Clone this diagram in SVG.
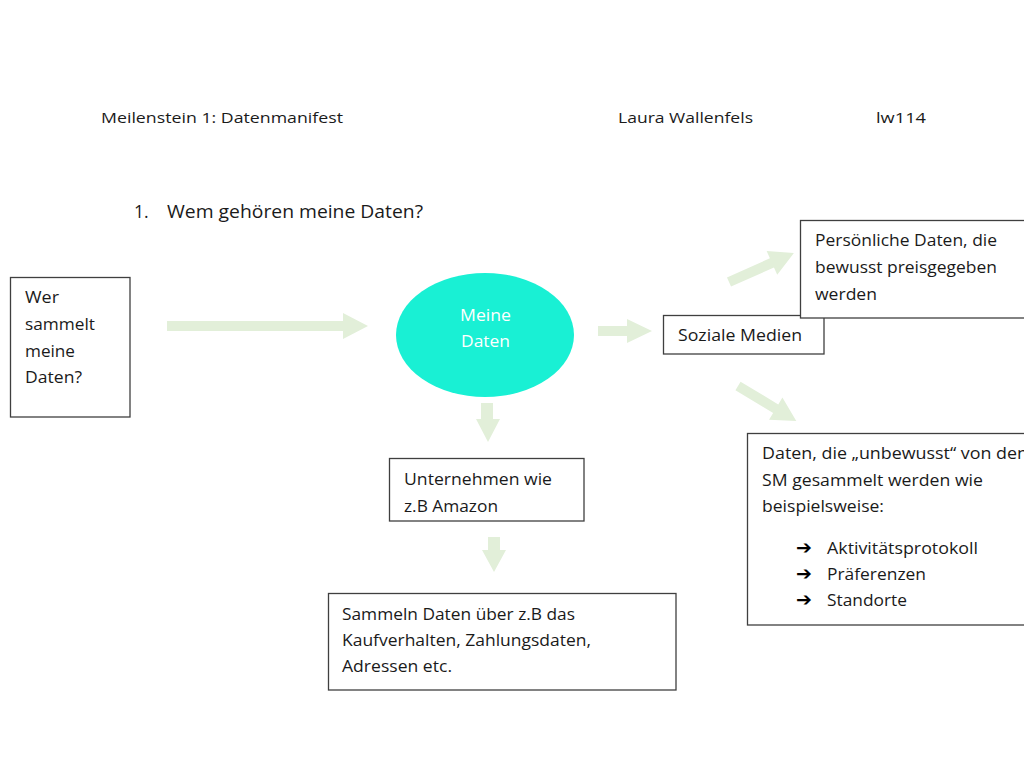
<svg xmlns="http://www.w3.org/2000/svg" width="1024" height="768" viewBox="0 0 1024 768">
<style>
text{font-family:"Open Sans","Liberation Sans",sans-serif;font-size:15.5px;fill:#1a1a1a}
.hdr{font-size:14.5px}
.h1{font-size:17.5px}
.box{fill:#fff;stroke:#3f3f3f;stroke-width:1.3}
.arr{fill:#e2efd9}
.wt{fill:#fff;font-size:15.5px}
.sym{font-family:"DejaVu Sans",sans-serif;font-size:19px;font-weight:bold;fill:#000}
</style>
<rect width="1024" height="768" fill="#fff"/>
<g id="header">
<text class="hdr" x="101" y="123" textLength="242" lengthAdjust="spacingAndGlyphs">Meilenstein 1: Datenmanifest</text>
<text class="hdr" x="618" y="123" textLength="135" lengthAdjust="spacingAndGlyphs">Laura Wallenfels</text>
<text class="hdr" x="876" y="123" textLength="50" lengthAdjust="spacingAndGlyphs">lw114</text>
<text class="h1" x="134" y="218">1.</text>
<text class="h1" x="167" y="218" textLength="256" lengthAdjust="spacingAndGlyphs">Wem gehören meine Daten?</text>
</g>
<g id="connectors">
<polygon class="arr" points="167,321 343,321 343,313 368,326 343,339 343,331 167,331"/>
<polygon class="arr" points="598,326 627,326 627,319 652,331 627,343 627,336 598,336"/>
<polygon class="arr" points="481,403 493,403 493,419 500,419 488,442 476,419 481,419"/>
<polygon class="arr" points="488,537 500,537 500,550 506,550 494,572 482,550 488,550"/>
<polygon class="arr" transform="translate(729,282) rotate(-24)" points="0,-5 47,-5 47,-13 71,0 47,13 47,5 0,5"/>
<polygon class="arr" transform="translate(738,386) rotate(31)" points="0,-5 44,-5 44,-13 68,0 44,13 44,5 0,5"/>
</g>
<g id="wer">
<rect class="box" x="10.5" y="277.5" width="119.5" height="139.5"/>
<text x="25" y="303" textLength="34" lengthAdjust="spacingAndGlyphs">Wer</text>
<text x="25" y="330" textLength="70" lengthAdjust="spacingAndGlyphs">sammelt</text>
<text x="25" y="357" textLength="50" lengthAdjust="spacingAndGlyphs">meine</text>
<text x="25" y="383" textLength="57" lengthAdjust="spacingAndGlyphs">Daten?</text>
</g>
<g id="meine-daten">
<ellipse cx="485" cy="335" rx="89" ry="62" fill="#19f0d4"/>
<text class="wt" x="460" y="321" textLength="51" lengthAdjust="spacingAndGlyphs">Meine</text>
<text class="wt" x="461" y="347" textLength="49" lengthAdjust="spacingAndGlyphs">Daten</text>
</g>
<g id="soziale-medien">
<rect class="box" x="663.5" y="315.5" width="160.5" height="38.5"/>
<text x="678" y="341" textLength="124" lengthAdjust="spacingAndGlyphs">Soziale Medien</text>
</g>
<g id="persoenliche">
<rect class="box" x="800.5" y="220.5" width="240" height="97.5"/>
<text x="815" y="246" textLength="182" lengthAdjust="spacingAndGlyphs">Persönliche Daten, die</text>
<text x="815" y="273" textLength="182" lengthAdjust="spacingAndGlyphs">bewusst preisgegeben</text>
<text x="815" y="300" textLength="62" lengthAdjust="spacingAndGlyphs">werden</text>
</g>
<g id="unbewusst">
<rect class="box" x="747.5" y="433.5" width="290" height="191.5"/>
<text x="762" y="459" textLength="266" lengthAdjust="spacingAndGlyphs">Daten, die „unbewusst“ von den</text>
<text x="762" y="486" textLength="221" lengthAdjust="spacingAndGlyphs">SM gesammelt werden wie</text>
<text x="762" y="512" textLength="122" lengthAdjust="spacingAndGlyphs">beispielsweise:</text>
<text class="sym" x="796" y="554">➔</text>
<text x="827" y="554" textLength="151" lengthAdjust="spacingAndGlyphs">Aktivitätsprotokoll</text>
<text class="sym" x="796" y="580">➔</text>
<text x="827" y="580" textLength="99" lengthAdjust="spacingAndGlyphs">Präferenzen</text>
<text class="sym" x="796" y="606">➔</text>
<text x="827" y="606" textLength="80" lengthAdjust="spacingAndGlyphs">Standorte</text>
</g>
<g id="unternehmen">
<rect class="box" x="389.5" y="458.5" width="194.5" height="62.5"/>
<text x="404" y="485" textLength="148" lengthAdjust="spacingAndGlyphs">Unternehmen wie</text>
<text x="404" y="512" textLength="94" lengthAdjust="spacingAndGlyphs">z.B Amazon</text>
</g>
<g id="sammeln">
<rect class="box" x="328.5" y="593.5" width="347.5" height="96.5"/>
<text x="342" y="620" textLength="233" lengthAdjust="spacingAndGlyphs">Sammeln Daten über z.B das</text>
<text x="342" y="646" textLength="249" lengthAdjust="spacingAndGlyphs">Kaufverhalten, Zahlungsdaten,</text>
<text x="342" y="672" textLength="110" lengthAdjust="spacingAndGlyphs">Adressen etc.</text>
</g>
</svg>
